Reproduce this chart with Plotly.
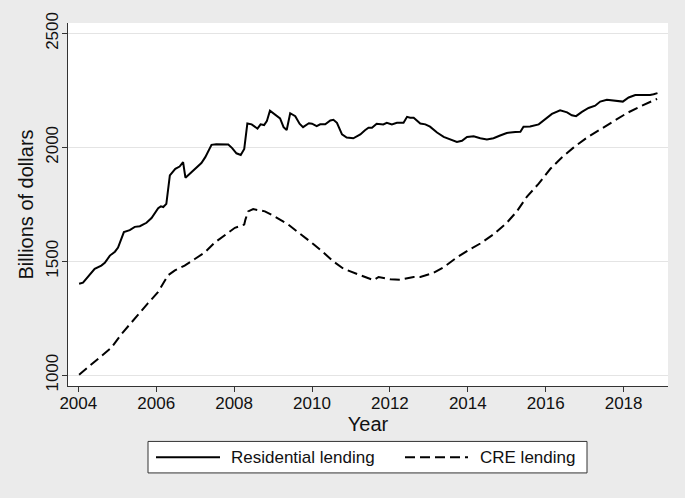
"""
Residential vs CRE lending, billions of dollars, 2004-2018 (Stata-style look).
"""
import plotly.graph_objects as go

# =============================================================================
# DATA
# =============================================================================
RES_YEAR = [
    2004.02, 2004.12, 2004.42, 2004.59, 2004.68, 2004.81, 2004.94, 2005.02, 2005.17, 2005.32,
    2005.45, 2005.58, 2005.75, 2005.88, 2006.05, 2006.12, 2006.18, 2006.26, 2006.35, 2006.49,
    2006.60, 2006.69, 2006.75, 2006.95, 2007.16, 2007.26, 2007.42, 2007.54, 2007.85, 2007.95,
    2008.06, 2008.17, 2008.26, 2008.34, 2008.45, 2008.60, 2008.68, 2008.77, 2008.84, 2008.92,
    2009.05, 2009.18, 2009.27, 2009.35, 2009.44, 2009.57, 2009.68, 2009.77, 2009.92, 2010.00,
    2010.12, 2010.21, 2010.34, 2010.47, 2010.55, 2010.64, 2010.77, 2010.89, 2011.06, 2011.24,
    2011.36, 2011.45, 2011.54, 2011.66, 2011.83, 2011.92, 2012.05, 2012.18, 2012.35, 2012.44,
    2012.52, 2012.61, 2012.78, 2012.91, 2013.03, 2013.21, 2013.38, 2013.63, 2013.72, 2013.85,
    2013.98, 2014.15, 2014.32, 2014.49, 2014.66, 2014.83, 2015.00, 2015.22, 2015.35, 2015.43,
    2015.60, 2015.82, 2015.99, 2016.16, 2016.37, 2016.55, 2016.67, 2016.78, 2016.93, 2017.10,
    2017.27, 2017.40, 2017.57, 2017.74, 2017.91, 2017.98, 2018.13, 2018.30, 2018.43, 2018.56,
    2018.68, 2018.77, 2018.87,
]
RES_VALUE = [
    1401, 1406, 1467, 1481, 1493, 1525, 1542, 1560, 1628, 1637,
    1651, 1654, 1669, 1690, 1733, 1741, 1738, 1752, 1877, 1906,
    1916, 1935, 1867, 1899, 1931, 1957, 2011, 2014, 2013, 1997,
    1974, 1967, 1993, 2105, 2101, 2082, 2101, 2098, 2115, 2161,
    2144, 2127, 2089, 2076, 2150, 2137, 2104, 2089, 2106, 2104,
    2093, 2101, 2101, 2118, 2121, 2108, 2057, 2043, 2040, 2057,
    2075, 2086, 2086, 2104, 2101, 2108, 2101, 2108, 2108, 2134,
    2130, 2130, 2105, 2101, 2091, 2065, 2046, 2029, 2024, 2029,
    2046, 2049, 2040, 2035, 2040, 2052, 2063, 2068, 2069, 2091,
    2092, 2101, 2125, 2147, 2163, 2154, 2141, 2137, 2156, 2173,
    2183, 2201, 2209, 2206, 2204, 2201, 2219, 2230, 2230, 2229,
    2230, 2233, 2238,
]

CRE_YEAR = [
    2004.02, 2004.25, 2004.59, 2004.85, 2005.10, 2005.45, 2005.79, 2006.05, 2006.30, 2006.48,
    2006.73, 2006.99, 2007.25, 2007.50, 2007.76, 2008.02, 2008.26, 2008.29, 2008.36, 2008.49,
    2008.79, 2009.04, 2009.39, 2009.73, 2010.04, 2010.29, 2010.55, 2010.81, 2011.15, 2011.41,
    2011.58, 2011.71, 2012.01, 2012.26, 2012.61, 2012.78, 2013.12, 2013.38, 2013.72, 2014.06,
    2014.32, 2014.66, 2015.00, 2015.26, 2015.52, 2015.82, 2016.12, 2016.42, 2016.72, 2017.06,
    2017.40, 2017.74, 2018.09, 2018.43, 2018.77, 2018.86,
]
CRE_VALUE = [
    1002, 1035, 1085, 1121, 1179, 1251, 1316, 1365, 1438, 1460,
    1481, 1510, 1539, 1582, 1614, 1647, 1661, 1683, 1719, 1729,
    1719, 1697, 1661, 1618, 1575, 1539, 1499, 1467, 1445, 1427,
    1417, 1431, 1421, 1419, 1431, 1431, 1449, 1474, 1517, 1553,
    1578, 1618, 1669, 1719, 1784, 1841, 1906, 1957, 2000, 2043,
    2079, 2115, 2151, 2180, 2209, 2213,
]

X_TICKS = [2004, 2006, 2008, 2010, 2012, 2014, 2016, 2018]
Y_TICKS = [1000, 1500, 2000, 2500]

SERIES_NAMES = ["Residential lending", "CRE lending"]

# =============================================================================
# LOOK
# =============================================================================
W, H = 685, 498
L, R, T, B = 68, 668, 17, 385.7   # plot area in pixels
FONT = "Arial, Liberation Sans, sans-serif"
INK = "#111111"
DASH = "10px,5px"


def px_x(px):
    return (px - L) / (R - L)


def px_y(py):
    return (B - py) / (B - T)


fig = go.Figure()
fig.add_scatter(x=RES_YEAR, y=RES_VALUE, mode="lines", name=SERIES_NAMES[0],
                line=dict(color="black", width=2), showlegend=False)
fig.add_scatter(x=CRE_YEAR, y=CRE_VALUE, mode="lines", name=SERIES_NAMES[1],
                line=dict(color="black", width=2, dash=DASH), showlegend=False)

fig.update_layout(
    width=W, height=H,
    paper_bgcolor="#EBEBEB",
    plot_bgcolor="white",
    margin=dict(l=L, r=W - R, t=T, b=H - B),
    font=dict(family=FONT, size=17, color=INK),
)
fig.update_xaxes(
    range=[2003.735, 2019.14],
    tickvals=X_TICKS,
    ticks="outside", ticklen=5, tickcolor="#333", tickwidth=1,
    ticklabelstandoff=-3,
    showline=True, linecolor="#333", linewidth=1,
    showgrid=False, zeroline=False,
    title=dict(text="Year", standoff=0),
)
fig.update_yaxes(
    range=[952.5, 2546],
    tickvals=Y_TICKS,
    tickangle=-90,
    ticks="outside", ticklen=5, tickcolor="#333", tickwidth=1,
    ticklabelstandoff=-3,
    showline=True, linecolor="#333", linewidth=1,
    showgrid=True, gridcolor="#E4E4E4", gridwidth=1,
    zeroline=False,
    title=dict(text="Billions of dollars", standoff=4),
)

# hand-made legend box below the plot (Stata style with long line samples)
fig.add_shape(type="rect", xref="paper", yref="paper",
              x0=px_x(148), x1=px_x(587), y0=px_y(474), y1=px_y(442),
              fillcolor="white", line=dict(color="#333", width=1))
fig.add_shape(type="line", xref="paper", yref="paper",
              x0=px_x(156), x1=px_x(220), y0=px_y(458), y1=px_y(458),
              line=dict(color="black", width=2))
fig.add_shape(type="line", xref="paper", yref="paper",
              x0=px_x(405), x1=px_x(468), y0=px_y(458), y1=px_y(458),
              line=dict(color="black", width=2, dash=DASH))
fig.add_annotation(xref="paper", yref="paper", x=px_x(229), y=px_y(458),
                   text=SERIES_NAMES[0], showarrow=False, xanchor="left", yanchor="middle")
fig.add_annotation(xref="paper", yref="paper", x=px_x(478), y=px_y(458),
                   text=SERIES_NAMES[1], showarrow=False, xanchor="left", yanchor="middle")

# the page's default 8px body margin would shift the whole figure
fig.write_html("out.html", config={"displayModeBar": False},
               post_script="document.body.style.margin = '0';")
